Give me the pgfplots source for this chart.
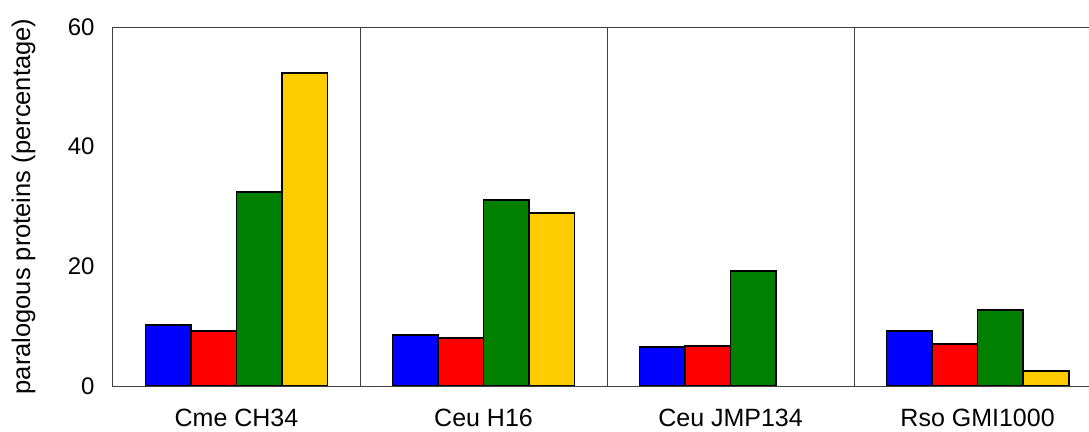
\documentclass[border=0pt]{standalone}
\usepackage{fontspec}
\setmainfont{Liberation Sans}
\usepackage{pgfplots}
\pgfplotsset{compat=1.18}
\definecolor{cblue}{RGB}{0,0,255}
\definecolor{cred}{RGB}{255,0,0}
\definecolor{cgreen}{RGB}{0,128,0}
\definecolor{cyellow}{RGB}{255,204,0}
\begin{document}
\fontsize{25bp}{29bp}\selectfont
\begin{tikzpicture}
\begin{axis}[
  scale only axis,
  width=976bp, height=359bp,
  xmin=-0.5, xmax=3.451,
  ymin=0, ymax=60,
  ytick={0,20,40,60},
  xtick={0,1,2,3},
  xticklabels={Cme CH34, Ceu H16, Ceu JMP134, Rso GMI1000},
  major tick length=0pt,
  axis line style={draw=none},
  ybar=0pt,
  bar width=45.5bp,
  every axis plot/.append style={draw=black, line width=1.8bp},
  /pgf/number format/assume math mode=true,
  yticklabel style={font=\fontsize{24bp}{28bp}\selectfont, xshift=-10bp},
  xticklabel style={font=\fontsize{25bp}{29bp}\selectfont, inner sep=0pt, anchor=north, yshift=-23bp},
  ylabel={paralogous proteins (percentage)},
  ylabel style={at={(axis description cs:-0.0917,0.5)}, anchor=center, font=\fontsize{25.5bp}{29bp}\selectfont},
  clip=false,
]
\addplot[fill=cblue] coordinates {(0,10.2) (1,8.5) (2,6.5) (3,9.2)};
\addplot[fill=cred] coordinates {(0,9.2) (1,8.0) (2,6.7) (3,7.0)};
\addplot[fill=cgreen] coordinates {(0,32.4) (1,31.1) (2,19.2) (3,12.7)};
\addplot[fill=cyellow] coordinates {(0,52.3) (1,28.9) (3,2.5)};
\draw[line width=1bp, black!75] (rel axis cs:1,0) -- (rel axis cs:0,0) -- (rel axis cs:0,1) -- (rel axis cs:1,1);
\draw[line width=1bp, black!75] (axis cs:0.5,0) -- (axis cs:0.5,60);
\draw[line width=1bp, black!75] (axis cs:1.5,0) -- (axis cs:1.5,60);
\draw[line width=1bp, black!75] (axis cs:2.5,0) -- (axis cs:2.5,60);
\end{axis}
\pgfresetboundingbox
\useasboundingbox (-113bp,-46bp) rectangle (976bp,386bp);
\end{tikzpicture}
\end{document}
